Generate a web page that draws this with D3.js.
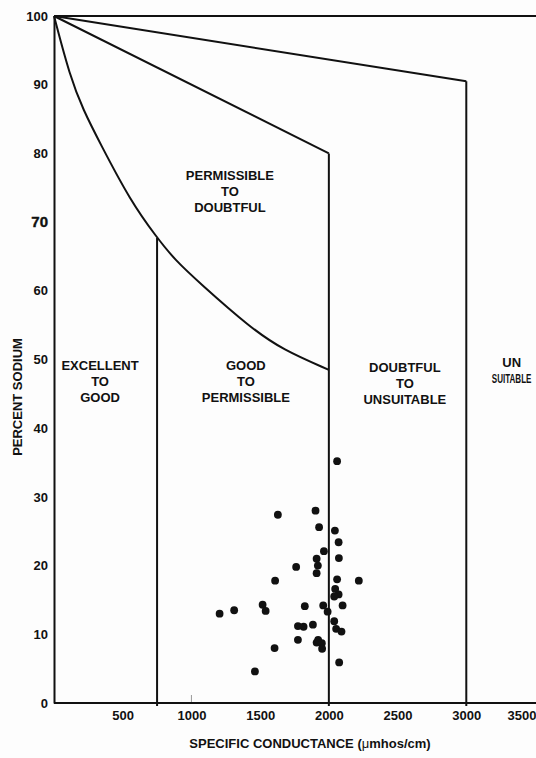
<!DOCTYPE html>
<html>
  <head>
    <meta charset="UTF-8">
    <title>Percent Sodium vs Specific Conductance</title>
    <script src="https://d3js.org/d3.v7.min.js"></script>
    <style>
      body { margin: 0; background: #fdfdfd; }
      svg { display: block; font-family: "Liberation Sans", Arial, sans-serif; font-weight: bold; }
      .axis text { font-size: 13px; fill: #111; }
      .axis path { stroke: #111; stroke-width: 2; }
      .zone text { font-size: 13px; fill: #111; text-anchor: middle; }
    </style>
  </head>
  <body>
    <svg width="536" height="758" id="wilcox"></svg>
    <script>
      // tick labels
      var xTicks = [500, 1000, 1500, 2000, 2500, 3000, 3500];
      var yTicks = [0, 10, 20, 30, 40, 50, 60, 70, 80, 90, 100];

      // class boundaries (conductance, % sodium)
      var lineUnsuitable = [[0, 100], [3000, 90.5]];
      var linePermissible = [[0, 100], [2000, 80]];
      var curveGood = [[0, 100], [116, 91.2], [213, 86.3], [335, 81.5], [553, 73.2], [750, 67.7],
                       [880, 64.5], [1062, 61.1], [1425, 54.7], [1665, 51.4], [2000, 48.5]];
      var boundaryX = [750, 2000, 3000];
      var boundaryTop = [67.7, 80, 90.5];

      // samples
      var conductance = [2060, 1629, 1903, 1929, 2044, 2071, 1964, 1911, 2073, 1762,
                         1920, 1911, 1609, 2060, 2218, 2046, 2071, 2039, 1518, 1540,
                         1311, 1205, 1825, 1959, 1991, 2100, 1884, 2039, 1775, 1816,
                         2053, 2092, 1775, 1911, 1922, 1949, 1951, 1605, 2075, 1462];
      var sodium = [35.2, 27.4, 28.0, 25.6, 25.1, 23.4, 22.1, 21.0, 21.1, 19.8,
                    20.0, 18.9, 17.8, 18.0, 17.8, 16.6, 15.8, 15.5, 14.3, 13.4,
                    13.5, 13.0, 14.1, 14.2, 13.3, 14.2, 11.4, 11.9, 11.2, 11.1,
                    10.8, 10.4, 9.2, 8.8, 9.2, 8.7, 7.9, 8.0, 5.9, 4.6];

      // zone labels: conductance, % sodium of first line
      var zoneNames = [["EXCELLENT", "TO", "GOOD"], ["GOOD", "TO", "PERMISSIBLE"],
                       ["DOUBTFUL", "TO", "UNSUITABLE"], ["UN", "SUITABLE"],
                       ["PERMISSIBLE", "TO", "DOUBTFUL"]];
      var zoneX = [335, 1396, 2553, 3330, 1280];
      var zoneY = [49.2, 49.2, 48.9, 49.5, 76.75];

      var svg = d3.select("#wilcox");
      var x = d3.scaleLinear().domain([0, 3500]).range([54, 535]);
      var y = d3.scaleLinear().domain([0, 100]).range([703, 16]);

      var line = d3.line().x(function(d) { return x(d[0]); }).y(function(d) { return y(d[1]); });

      // top frame line
      svg.append("line")
        .attr("x1", x(0)).attr("x2", 536)
        .attr("y1", y(100)).attr("y2", y(100))
        .attr("stroke", "#111").attr("stroke-width", 2);

      // vertical class boundaries
      svg.selectAll(".bound")
        .data(boundaryX)
        .enter().append("line")
        .attr("class", "bound")
        .attr("x1", function(d) { return x(d); })
        .attr("x2", function(d) { return x(d); })
        .attr("y1", function(d, i) { return y(boundaryTop[i]); })
        .attr("y2", y(0) + 3)
        .attr("stroke", "#111").attr("stroke-width", 2);

      svg.append("path").datum(lineUnsuitable).attr("d", line)
        .attr("fill", "none").attr("stroke", "#111").attr("stroke-width", 2);
      svg.append("path").datum(linePermissible).attr("d", line)
        .attr("fill", "none").attr("stroke", "#111").attr("stroke-width", 2);
      svg.append("path").datum(curveGood).attr("d", line.curve(d3.curveBasis))
        .attr("fill", "none").attr("stroke", "#111").attr("stroke-width", 2);

      // small tick at 1000
      svg.append("line")
        .attr("x1", x(1000)).attr("x2", x(1000))
        .attr("y1", y(0) - 8).attr("y2", y(0))
        .attr("stroke", "#999").attr("stroke-width", 1);

      // axes
      var gx = svg.append("g").attr("class", "axis")
        .attr("transform", "translate(0," + y(0) + ")")
        .call(d3.axisBottom(x).tickValues(xTicks).tickFormat(d3.format("d"))
          .tickSize(0).tickSizeOuter(0).tickPadding(8));
      gx.select(".domain").attr("d", "M" + x(0) + ",0H536");
      gx.selectAll(".tick text")
        .filter(function(d) { return d === 3500; })
        .attr("text-anchor", "end").attr("x", 536 - x(3500));

      var gy = svg.append("g").attr("class", "axis")
        .attr("transform", "translate(" + x(0) + ",0)")
        .call(d3.axisLeft(y).tickValues(yTicks).tickFormat(d3.format("d"))
          .tickSize(0).tickSizeOuter(0).tickPadding(6));
      gy.selectAll(".tick text")
        .filter(function(d) { return d === 70; })
        .style("font-size", "15px").attr("stroke", "#111").attr("stroke-width", 0.4);

      // axis titles
      svg.append("text")
        .attr("x", 310).attr("y", 748)
        .attr("text-anchor", "middle").style("font-size", "13px").attr("fill", "#111")
        .html("SPECIFIC CONDUCTANCE (<tspan style='font-weight:normal'>\u03bc</tspan>mhos/cm)");
      svg.append("text")
        .attr("transform", "translate(22,397) rotate(-90)")
        .attr("text-anchor", "middle").style("font-size", "13px").attr("fill", "#111")
        .text("PERCENT SODIUM");

      // zone labels, one text per line; SUITABLE is squeezed like in the scan
      var zones = svg.selectAll(".zone")
        .data(zoneNames)
        .enter().append("g")
        .attr("class", "zone")
        .attr("transform", function(d, i) { return "translate(" + x(zoneX[i]) + "," + y(zoneY[i]) + ")"; });
      zones.selectAll("text")
        .data(function(d) { return d; })
        .enter().append("text")
        .attr("transform", function(d, i) {
          var sx = d === "SUITABLE" ? 0.62 : 1;
          return "translate(0," + (i * 16) + ") scale(" + sx + ",1)";
        })
        .attr("dy", "0.35em")
        .text(function(d) { return d; });

      // sample points
      svg.selectAll(".dot")
        .data(conductance)
        .enter().append("circle")
        .attr("class", "dot")
        .attr("cx", function(d) { return x(d); })
        .attr("cy", function(d, i) { return y(sodium[i]); })
        .attr("r", 3.9)
        .attr("fill", "#111");
    </script>
  </body>
</html>
